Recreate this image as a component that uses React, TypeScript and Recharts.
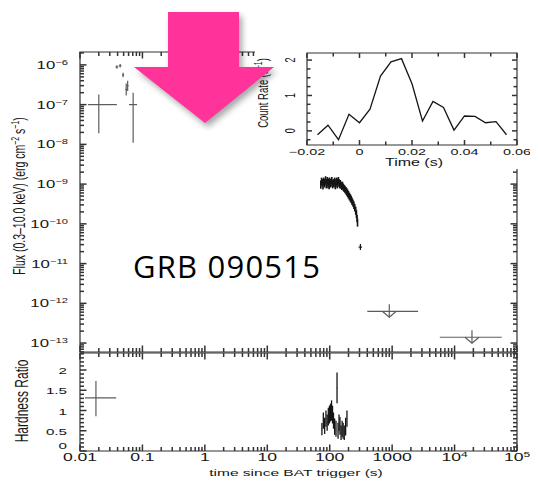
import React from "react";
import { ScatterChart, Scatter, XAxis, YAxis, ErrorBar, ReferenceArea } from "recharts";

// ---- values ----

// inset: BAT count rate around the trigger (s, counts/s)
const insetTime = [-0.016, -0.012, -0.008, -0.004, 0, 0.004, 0.008, 0.012, 0.016, 0.02, 0.024, 0.028, 0.032, 0.036, 0.04, 0.044, 0.048, 0.052, 0.056];
const insetRate = [-0.11, 0.16, -0.25, 0.47, 0.23, 0.61, 1.55, 1.95, 2.04, 1.33, 0.28, 0.83, 0.66, 0.02, 0.42, 0.41, 0.23, 0.26, -0.11];

// early flux points (s, erg cm^-2 s^-1), with bounds
const earlyT = [0.02, 0.039, 0.044, 0.049, 0.055, 0.058, 0.071];
const earlyTLo = [0.0134, 0.037, 0.042, 0.047, 0.053, 0.056, 0.061];
const earlyTHi = [0.039, 0.041, 0.046, 0.051, 0.057, 0.06, 0.082];
const earlyF = [1.0e-7, 8.9e-7, 9.5e-7, 5.6e-7, 2.4e-7, 3.0e-7, 1.0e-7];
const earlyFLo = [1.9e-8, 8.0e-7, 8.6e-7, 4.9e-7, 1.7e-7, 2.2e-7, 1.1e-8];
const earlyFHi = [1.8e-7, 9.8e-7, 1.05e-6, 6.3e-7, 3.4e-7, 4.0e-7, 2.0e-7];

// XRT window timing data (s, flux in 1e-10)
const clusterT = [72, 74, 76, 78, 80, 82, 84, 86, 88, 90, 92, 94, 96, 98, 100, 102, 105, 108, 111, 114, 117, 120, 123, 126, 129, 132, 135, 138, 141, 144, 148, 152, 156, 160, 165, 170, 176, 182, 188, 194, 200, 207, 214, 221, 228, 236, 244, 252, 261, 268, 274, 279];
const clusterF = [10, 12, 11, 9.5, 12, 10.5, 11.5, 13, 10, 11, 12.5, 10, 11.5, 9.5, 12, 10.5, 11, 12.5, 10, 11, 10.5, 12, 9.5, 11, 12, 10, 11.5, 12.5, 11, 10, 10.5, 9.5, 9, 9.5, 8.5, 8, 7.5, 7, 6.5, 6, 5.5, 5, 4.6, 4.2, 3.8, 3.4, 3.0, 2.6, 2.2, 1.8, 1.4, 1.1];
const clusterFErr = [2.4, 2.6, 2.4, 2.2, 2.6, 2.3, 2.4, 2.8, 2.2, 2.4, 2.6, 2.2, 2.4, 2.1, 2.6, 2.3, 2.4, 2.6, 2.2, 2.4, 2.3, 2.6, 2.1, 2.4, 2.6, 2.2, 2.4, 2.6, 2.4, 2.2, 2.2, 2.0, 1.9, 2.0, 1.8, 1.7, 1.6, 1.5, 1.4, 1.3, 1.2, 1.1, 1.0, 0.9, 0.8, 0.7, 0.65, 0.55, 0.5, 0.4, 0.3, 0.25];
const clusterTErr = [1, 1, 1, 1, 1, 1, 1, 1, 1, 1, 1, 1, 1, 1, 1, 1.5, 1.5, 1.5, 1.5, 1.5, 1.5, 1.5, 1.5, 1.5, 1.5, 1.5, 1.5, 1.5, 1.5, 1.5, 2, 2, 2, 2, 2.5, 2.5, 3, 3, 3, 3, 3, 3.5, 3.5, 3.5, 3.5, 4, 4, 4, 4.5, 3, 3, 2.5];

// last detection
const lateT = [310];
const lateTLo = [290];
const lateTHi = [330];
const lateF = [2.6e-11];
const lateFLo = [2.2e-11];
const lateFHi = [3.1e-11];

// upper limits
const ulT = [900, 19000];
const ulTLo = [400, 5800];
const ulTHi = [2600, 57000];
const ulF = [6.3e-13, 1.4e-13];

// hardness ratio
const hrEarlyT = [0.018];
const hrEarlyTLo = [0.012];
const hrEarlyTHi = [0.038];
const hrEarlyV = [1.31];
const hrEarlyLo = [0.86];
const hrEarlyHi = [1.73];

const hrT = [75, 79, 83, 87, 91, 95, 99, 103, 107, 111, 115, 120, 126, 131, 136, 141, 146, 152, 158, 164, 171, 180, 189];
const hrV = [0.54, 0.75, 0.62, 0.8, 0.7, 0.85, 0.9, 0.95, 1.0, 0.9, 0.75, 0.6, 0.55, 1.56, 0.5, 0.7, 0.62, 0.45, 0.55, 0.5, 0.45, 0.6, 0.8];
const hrErr = [0.15, 0.2, 0.2, 0.2, 0.2, 0.22, 0.22, 0.22, 0.25, 0.22, 0.2, 0.2, 0.2, 0.38, 0.2, 0.2, 0.22, 0.18, 0.2, 0.2, 0.18, 0.22, 0.2];
const hrTErr = [0.8, 0.8, 0.8, 0.8, 0.8, 0.8, 0.8, 0.8, 0.8, 0.8, 0.8, 1, 1, 1, 1, 1, 1, 1.2, 1.2, 1.2, 1.2, 1.5, 1.5];

// axis ticks and labels
const xMajorTicks = [0.01, 0.1, 1, 10, 100, 1000, 1e4, 1e5];
const xMajorLabels = ["0.01", "0.1", "1", "10", "100", "1000", "10^4", "10^5"];
const fluxMajorTicks = [1e-13, 1e-12, 1e-11, 1e-10, 1e-9, 1e-8, 1e-7, 1e-6];
const hrLabels = ["0", "0.5", "1", "1.5", "2"];
const insetXTicks = [-0.02, -0.01, 0, 0.01, 0.02, 0.03, 0.04, 0.05, 0.06];
const insetXLabels = ["\u22120.02", "", "0", "", "0.02", "", "0.04", "", "0.06"];
const insetYTicks = [-0.25, 0, 0.25, 0.5, 0.75, 1, 1.25, 1.5, 1.75, 2];

// ---- look ----
const SX = 1.6; // the figure was stretched sideways
const AXIS = "#333";
const INK = "#151515";
const GRAY = "#5c5c5c";
const FONT = "'Liberation Sans', Arial, sans-serif";
const X_DOMAIN = [0.01, 1e5];
const FLUX_DOMAIN = [5.96e-14, 2.11e-6];
const HR_DOMAIN = [0, 2.42];
const INSET_X = [-0.02, 0.06];
const INSET_Y = [-0.4, 2.2];

const isPow10 = (v: number) => Math.abs(Math.log10(v) - Math.round(Math.log10(v))) < 1e-6;
const isHalf = (v: number) => Math.abs(v * 2 - Math.round(v * 2)) < 1e-6;
const isEvenHundredth = (v: number) => Math.abs(v * 50 - Math.round(v * 50)) < 1e-6;
const isInt = (v: number) => Math.abs(v - Math.round(v)) < 1e-6;

const withMinors = (decades: number[]) => decades.flatMap((d) => [1, 2, 3, 4, 5, 6, 7, 8, 9].map((k) => d * k));
const xTicks = withMinors(xMajorTicks.slice(0, -1)).concat([1e5]);
const fluxTicks = withMinors([1e-14, ...fluxMajorTicks]).filter((v) => v >= FLUX_DOMAIN[0] && v <= FLUX_DOMAIN[1]);
const hrTicks = Array.from({ length: 25 }, (_, i) => i / 10).filter((v) => v <= HR_DOMAIN[1]);

const earlyData = earlyT.map((t, i) => ({
  t,
  f: earlyF[i],
  ex: [t - earlyTLo[i], earlyTHi[i] - t],
  ey: [earlyF[i] - earlyFLo[i], earlyFHi[i] - earlyF[i]],
}));
const clusterData = clusterT.map((t, i) => ({ t, f: clusterF[i] * 1e-10, ex: clusterTErr[i], ey: clusterFErr[i] * 1e-10 }));
const lateData = lateT.map((t, i) => ({
  t,
  f: lateF[i],
  ex: [t - lateTLo[i], lateTHi[i] - t],
  ey: [lateF[i] - lateFLo[i], lateFHi[i] - lateF[i]],
}));
const ulData = ulT.map((t, i) => ({ t, f: ulF[i], ex: [t - ulTLo[i], ulTHi[i] - t] }));
const hrEarlyData = hrEarlyT.map((t, i) => ({
  t,
  v: hrEarlyV[i],
  ex: [t - hrEarlyTLo[i], hrEarlyTHi[i] - t],
  ey: [hrEarlyV[i] - hrEarlyLo[i], hrEarlyHi[i] - hrEarlyV[i]],
}));
const hrData = hrT.map((t, i) => ({ t, v: hrV[i], ex: hrTErr[i], ey: hrErr[i] }));
const insetData = insetTime.map((t, i) => ({ t, rate: insetRate[i] }));

// tick marks as points on the frame edges, so they go through the chart scales
function frameTicks(
  xs: number[], ys: number[], xDom: number[], yDom: number[], yKey: string,
  xMajor: (v: number) => boolean, yMajor: (v: number) => boolean, major: number, minor: number,
) {
  const pts: any[] = [];
  xs.forEach((v) => {
    const len = xMajor(v) ? major : minor;
    pts.push({ t: v, [yKey]: yDom[0], side: "bottom", len });
    pts.push({ t: v, [yKey]: yDom[1], side: "top", len });
  });
  ys.forEach((v) => {
    const len = yMajor(v) ? major : minor;
    pts.push({ t: xDom[0], [yKey]: v, side: "left", len });
    pts.push({ t: xDom[1], [yKey]: v, side: "right", len });
  });
  return pts;
}
const fluxTickPts = frameTicks(xTicks, fluxTicks, X_DOMAIN, FLUX_DOMAIN, "f", isPow10, isPow10, 6.5, 4);
const hrTickPts = frameTicks(xTicks, hrTicks, X_DOMAIN, HR_DOMAIN, "v", isPow10, isHalf, 6.5, 4);
const insetTickPts = frameTicks(insetXTicks, insetYTicks, INSET_X, INSET_Y, "rate", isEvenHundredth, isInt, 5, 3.5);

const tickMark = (p: any) => {
  const cx = Number(p.cx);
  const cy = Number(p.cy);
  const item = p.payload || p;
  const side = item.side;
  const len = Number(item.len) || 4;
  const d = side === "left" ? [len, 0] : side === "right" ? [-len, 0] : side === "top" ? [0, len] : [0, -len];
  return (
    <g stroke={AXIS} strokeWidth={1.5} fill="none">
      <line x1={cx} y1={cy} x2={cx + d[0]} y2={cy + d[1]} />
    </g>
  );
};

// stretched text, like the rest of the figure
function SText({ x, y, size, anchor = "middle", rotate = false, children }: any) {
  return (
    <text
      transform={`translate(${x} ${y}) scale(${SX} 1)${rotate ? " rotate(-90)" : ""}`}
      textAnchor={anchor}
      fontSize={size}
      fontFamily={FONT}
      fill={INK}
    >
      {children}
    </text>
  );
}

function labelTick(isMajor: (v: number) => boolean, label: (v: number, x: number, y: number) => React.ReactNode) {
  return (props: any) => {
    const v = props.payload.value;
    return <g>{isMajor(v) ? label(v, Number(props.x), Number(props.y)) : null}</g>;
  };
}
const blankTick = () => <g />;

const axisCommon = {
  tickSize: 0,
  tickMargin: 0,
  tickLine: false,
  interval: 0 as const,
  axisLine: false,
};

const powLabel = (v: number, x: number, y: number) => {
  const e = Math.round(Math.log10(v));
  return (
    <SText x={x - 12} y={y + 4} size={10.5} anchor="end">
      10<tspan dy={-4} fontSize={7}>{"\u2212" + Math.abs(e)}</tspan>
    </SText>
  );
};

const xLabel = (v: number, x: number, y: number) => {
  const s = xMajorLabels[xMajorTicks.findIndex((m) => Math.abs(Math.log10(m) - Math.log10(v)) < 1e-6)] || "";
  const [base, exp] = s.split("^");
  return (
    <SText x={x} y={y + 10} size={11}>
      {base}
      {exp ? <tspan dy={-4} fontSize={7.5}>{exp}</tspan> : null}
    </SText>
  );
};

const hrLabel = (v: number, x: number, y: number) =>
  v === 0 ? (
    <SText x={x - 13} y={y - 2} size={9.5} anchor="end">{hrLabels[0]}</SText>
  ) : (
    <SText x={x - 13} y={y + 4} size={9.5} anchor="end">{hrLabels[Math.round(v * 2)]}</SText>
  );

const insetXLabel = (v: number, x: number, y: number) => (
  <SText x={x} y={y + 10} size={9}>{insetXLabels[Math.round((v + 0.02) * 100)]}</SText>
);
const insetYLabel = (v: number, x: number, y: number) => (
  <SText x={x - 12} y={y} size={9} rotate>{String(Math.round(v))}</SText>
);

const noMark = () => <g />;
const ulMark = (p: any) => (
  <g stroke={GRAY} strokeWidth={1.2} fill="none">
    <line x1={p.cx} y1={p.cy - 7} x2={p.cx} y2={p.cy + 6} />
    <polyline points={`${p.cx - 7},${p.cy} ${p.cx},${p.cy + 6} ${p.cx + 7},${p.cy}`} />
  </g>
);

function FluxPanel() {
  return (
    <ScatterChart width={539} height={360} margin={{ top: 51, right: 21, bottom: 7, left: 0 }}>
      <XAxis xAxisId="b" type="number" dataKey="t" scale="log" domain={X_DOMAIN} ticks={xTicks} height={1} tick={blankTick} {...axisCommon} />
      <XAxis xAxisId="t" orientation="top" type="number" dataKey="t" scale="log" domain={X_DOMAIN} ticks={xTicks} height={1} tick={blankTick} {...axisCommon} />
      <YAxis yAxisId="l" type="number" dataKey="f" scale="log" domain={FLUX_DOMAIN} ticks={fluxTicks} width={80}
        tick={labelTick(isPow10, powLabel)} {...axisCommon} />
      <YAxis yAxisId="r" orientation="right" type="number" dataKey="f" scale="log" domain={FLUX_DOMAIN} ticks={fluxTicks} width={1} tick={blankTick} {...axisCommon} />
      <ReferenceArea xAxisId="b" yAxisId="l" x1={X_DOMAIN[0]} x2={X_DOMAIN[1]} y1={FLUX_DOMAIN[0]} y2={FLUX_DOMAIN[1]}
        fill="none" fillOpacity={0} stroke={AXIS} strokeWidth={1.2} ifOverflow="visible" />
      <Scatter xAxisId="b" yAxisId="l" data={fluxTickPts} shape={tickMark} isAnimationActive={false} />
      <Scatter xAxisId="b" yAxisId="l" data={earlyData} shape={noMark} isAnimationActive={false}>
        <ErrorBar dataKey="ex" direction="x" width={0} stroke={GRAY} strokeWidth={1.2} isAnimationActive={false} />
        <ErrorBar dataKey="ey" direction="y" width={0} stroke={GRAY} strokeWidth={1.2} isAnimationActive={false} />
      </Scatter>
      <Scatter xAxisId="b" yAxisId="l" data={clusterData} shape={noMark} isAnimationActive={false}>
        <ErrorBar dataKey="ex" direction="x" width={0} stroke={INK} strokeWidth={1.6} isAnimationActive={false} />
        <ErrorBar dataKey="ey" direction="y" width={0} stroke={INK} strokeWidth={1.6} isAnimationActive={false} />
      </Scatter>
      <Scatter xAxisId="b" yAxisId="l" data={lateData} shape={noMark} isAnimationActive={false}>
        <ErrorBar dataKey="ex" direction="x" width={0} stroke={INK} strokeWidth={1.2} isAnimationActive={false} />
        <ErrorBar dataKey="ey" direction="y" width={0} stroke={INK} strokeWidth={1.2} isAnimationActive={false} />
      </Scatter>
      <Scatter xAxisId="b" yAxisId="l" data={ulData} shape={ulMark} isAnimationActive={false}>
        <ErrorBar dataKey="ex" direction="x" width={0} stroke={GRAY} strokeWidth={1.2} isAnimationActive={false} />
      </Scatter>
    </ScatterChart>
  );
}

function HardnessPanel() {
  return (
    <ScatterChart width={539} height={153} margin={{ top: 11, right: 21, bottom: 42, left: 0 }}>
      <XAxis xAxisId="b" type="number" dataKey="t" scale="log" domain={X_DOMAIN} ticks={xTicks} height={1}
        tick={labelTick(isPow10, xLabel)} {...axisCommon} />
      <XAxis xAxisId="t" orientation="top" type="number" dataKey="t" scale="log" domain={X_DOMAIN} ticks={xTicks} height={1} tick={blankTick} {...axisCommon} />
      <YAxis yAxisId="l" type="number" dataKey="v" domain={HR_DOMAIN} ticks={hrTicks} width={80}
        tick={labelTick(isHalf, hrLabel)} {...axisCommon} />
      <YAxis yAxisId="r" orientation="right" type="number" dataKey="v" domain={HR_DOMAIN} ticks={hrTicks} width={1} tick={blankTick} {...axisCommon} />
      <ReferenceArea xAxisId="b" yAxisId="l" x1={X_DOMAIN[0]} x2={X_DOMAIN[1]} y1={HR_DOMAIN[0]} y2={HR_DOMAIN[1]}
        fill="none" fillOpacity={0} stroke={AXIS} strokeWidth={1.2} ifOverflow="visible" />
      <Scatter xAxisId="b" yAxisId="l" data={hrTickPts} shape={tickMark} isAnimationActive={false} />
      <Scatter xAxisId="b" yAxisId="l" data={hrEarlyData} shape={noMark} isAnimationActive={false}>
        <ErrorBar dataKey="ex" direction="x" width={0} stroke={GRAY} strokeWidth={1.2} isAnimationActive={false} />
        <ErrorBar dataKey="ey" direction="y" width={0} stroke={GRAY} strokeWidth={1.2} isAnimationActive={false} />
      </Scatter>
      <Scatter xAxisId="b" yAxisId="l" data={hrData} shape={noMark} isAnimationActive={false}>
        <ErrorBar dataKey="ex" direction="x" width={0} stroke={INK} strokeWidth={1.3} isAnimationActive={false} />
        <ErrorBar dataKey="ey" direction="y" width={0} stroke={INK} strokeWidth={1.3} isAnimationActive={false} />
      </Scatter>
    </ScatterChart>
  );
}

function Inset() {
  return (
    <ScatterChart width={275} height={128} margin={{ top: 11, right: 12, bottom: 23, left: 0 }}>
      <XAxis xAxisId="b" type="number" dataKey="t" domain={INSET_X} ticks={insetXTicks} height={1}
        tick={labelTick(isEvenHundredth, insetXLabel)} {...axisCommon} />
      <XAxis xAxisId="t" orientation="top" type="number" dataKey="t" domain={INSET_X} ticks={insetXTicks} height={1} tick={blankTick} {...axisCommon} />
      <YAxis yAxisId="l" type="number" dataKey="rate" domain={INSET_Y} ticks={insetYTicks} width={52}
        tick={labelTick(isInt, insetYLabel)} {...axisCommon} />
      <YAxis yAxisId="r" orientation="right" type="number" dataKey="rate" domain={INSET_Y} ticks={insetYTicks} width={1} tick={blankTick} {...axisCommon} />
      <ReferenceArea xAxisId="b" yAxisId="l" x1={INSET_X[0]} x2={INSET_X[1]} y1={INSET_Y[0]} y2={INSET_Y[1]}
        fill="none" fillOpacity={0} stroke={AXIS} strokeWidth={1.2} ifOverflow="visible" />
      <Scatter xAxisId="b" yAxisId="l" data={insetTickPts} shape={tickMark} isAnimationActive={false} />
      <Scatter xAxisId="b" yAxisId="l" data={insetData} shape={noMark} line={{ stroke: INK, strokeWidth: 1.3 }}
        lineType="joint" isAnimationActive={false} />
    </ScatterChart>
  );
}

export default function App() {
  return (
    <div style={{ position: "absolute", left: 0, top: 0, width: 539, height: 493, background: "#fff", overflow: "hidden" }}>
      <div style={{ position: "absolute", left: 0, top: 0 }}>
        <FluxPanel />
      </div>
      <div style={{ position: "absolute", left: 0, top: 341 }}>
        <HardnessPanel />
      </div>
      <div style={{ position: "absolute", left: 255, top: 41, width: 275, height: 128, background: "#fff" }}>
        <Inset />
      </div>
      <svg style={{ position: "absolute", left: 0, top: 0 }} width={539} height={493}>
        <SText x={25} y={196} size={10.5} rotate>
          Flux (0.3–10.0 keV) (erg cm<tspan dy={-4} fontSize={7}>−2</tspan>
          <tspan dy={4}> s</tspan>
          <tspan dy={-4} fontSize={7}>−1</tspan>
          <tspan dy={4}>)</tspan>
        </SText>
        <SText x={28} y={401} size={12} rotate>Hardness Ratio</SText>
        <SText x={296} y={476} size={9.7}>time since BAT trigger (s)</SText>
        <SText x={414} y={166} size={10}>Time (s)</SText>
        <SText x={268} y={93} size={9.5} rotate>
          Count Rate (s<tspan dy={-4} fontSize={7}>−1</tspan>
          <tspan dy={4}>)</tspan>
        </SText>
        <text x={133} y={278} fontSize={31} letterSpacing={1.2} fontFamily="'Open Sans', sans-serif" fill="#000">GRB 090515</text>
        <g style={{ filter: "drop-shadow(3px 4px 3px rgba(0,0,0,0.35))" }}>
          <polygon points="168,12 239,12 239,67 274,67 205,123 134,67 168,67" fill="#ff3399" />
        </g>
      </svg>
    </div>
  );
}
